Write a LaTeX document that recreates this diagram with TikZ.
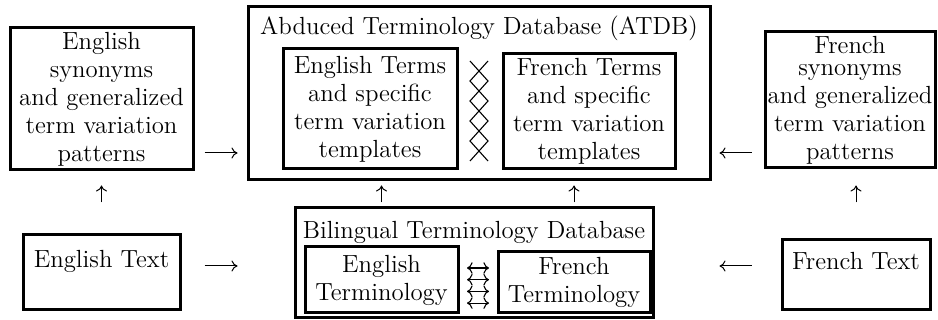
\documentclass[tikz,border=0pt]{standalone}
\usetikzlibrary{arrows.meta}
\begin{document}
\begin{tikzpicture}[x=0.5pt,y=-0.5pt,
  box/.style={draw, line width=1.5pt, inner sep=0pt, align=center,
    font=\fontsize{12.4}{14}\selectfont},
  ttl/.style={inner sep=0pt, anchor=base, font=\fontsize{12.4}{14}\selectfont},
  arr/.style={line width=0.5pt, -{To[length=3pt,width=5.5pt]}},
  sym/.style={line width=0.55pt},
  dbl/.style={line width=0.55pt, {To[length=2.8pt,width=5.8pt]}-{To[length=2.8pt,width=5.8pt]}}]
\useasboundingbox (0,0) rectangle (938,320);

% top row
\node[box, minimum width=91.5pt, minimum height=71pt] (L1) at (101.5,99)
  {English\\synonyms\\and generalized\\term variation\\patterns};
\node[box, minimum width=85pt, minimum height=68pt] (R1) at (850,100)
  {French\\[-3pt]synonyms\\and generalized\\term variation\\patterns};
\node[box, minimum width=231pt, minimum height=86.5pt] (AT) at (479,93.5) {};
\node[ttl] (ATt) at (479,35) {Abduced Terminology Database (ATDB)};
\node[box, minimum width=87pt, minimum height=60pt] (ENterms) at (370,109)
  {English Terms\\and specific\\term variation\\templates};
\node[box, minimum width=86pt, minimum height=57.5pt] (FRterms) at (589,111.5)
  {French Terms\\and specific\\term variation\\templates};
\draw[sym] (470,61) -- (488,81) -- (470,101) -- (488,121) -- (470,141) -- (488,161);
\draw[sym] (488,61) -- (470,81) -- (488,101) -- (470,121) -- (488,141) -- (470,161);

% bottom row
\node[box, minimum width=78.5pt, minimum height=37.5pt] (ENtext) at (101.5,272.5)
  {English Text\\ \mbox{}};
\node[box, minimum width=74pt, minimum height=35pt] (FRtext) at (856,275)
  {French Text\\ \mbox{}};
\node[box, minimum width=179pt, minimum height=55pt] (BT) at (474,263) {};
\node[ttl] (BTt) at (474,239) {Bilingual Terminology Database};
\node[box, minimum width=76.5pt, minimum height=33pt] (ENterm) at (381.5,280)
  {English\\Terminology};
\node[box, minimum width=76pt, minimum height=30.5pt] (FRterm) at (574,282.5)
  {French\\Terminology};
\foreach \yy in {268,279.7,291.4,303.1}
  \draw[dbl] (467,\yy) -- (489,\yy);

% connectors
\draw[arr, shorten <=5pt, shorten >=4.5pt] (L1.east |- 0,153) -- (AT.west |- 0,153);
\draw[arr, shorten <=6pt, shorten >=4pt] (R1.west |- 0,153) -- (AT.east |- 0,153);
\draw[arr, shorten <=11.5pt, shorten >=28pt] (ENtext.east |- 0,266) -- (BT.west |- 0,266);
\draw[arr, shorten <=14.5pt, shorten >=32.5pt] (FRtext.west |- 0,266) -- (BT.east |- 0,266);
\draw[arr, shorten <=15.5pt, shorten >=7pt] (ENtext.north) -- (L1.south);
\draw[arr, shorten <=18pt, shorten >=8pt] (FRtext.north) -- (R1.south -| FRtext.north);
\draw[arr, xshift=-2.25pt, shorten <=2pt, shorten >=2pt] (BT.north -| ENterm.north) -- (AT.south -| ENterm.north);
\draw[arr, xshift=1.5pt, shorten <=2pt, shorten >=2pt] (BT.north -| FRterm.north) -- (AT.south -| FRterm.north);
\end{tikzpicture}
\end{document}
